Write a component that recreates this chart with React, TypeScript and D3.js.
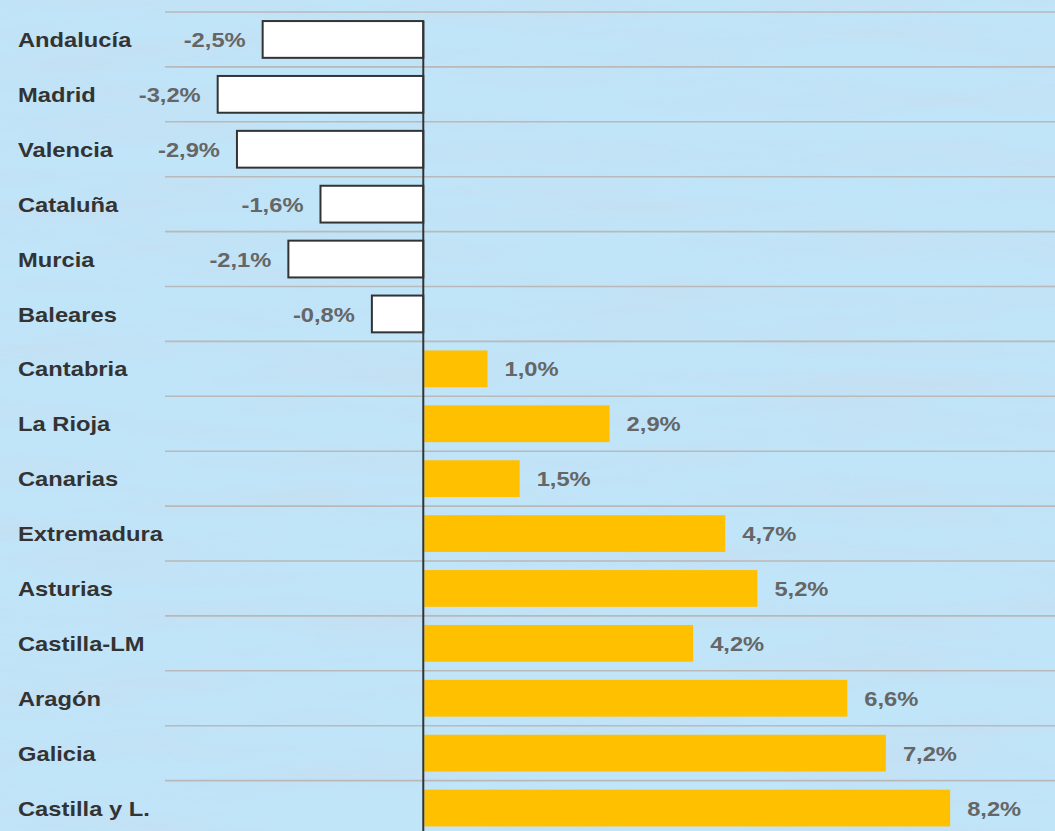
import React from "react";
import * as d3 from "d3";

const categories = [
  "Andalucía", "Madrid", "Valencia", "Cataluña", "Murcia", "Baleares",
  "Cantabria", "La Rioja", "Canarias", "Extremadura", "Asturias",
  "Castilla-LM", "Aragón", "Galicia", "Castilla y L.",
];
const values = [-2.5, -3.2, -2.9, -1.6, -2.1, -0.8, 1.0, 2.9, 1.5, 4.7, 5.2, 4.2, 6.6, 7.2, 8.2];
const valueLabels = values.map((v) => d3.format(".1f")(v).replace(".", ",").replace("−", "-") + "%");

const W = 1055;
const H = 831;
const SX = 1.13;

export default function App() {
  const n = categories.length;
  const step = 54.9;
  const y = d3
    .scaleBand<string>()
    .domain(categories)
    .range([12, 12 + step * n])
    .paddingInner(0.33)
    .paddingOuter(0.165);
  const pxPer = 64.25;
  const x = d3.scaleLinear().domain([-4.02, 9.9]).range([165, 165 + 13.92 * pxPer]);
  const bw = y.bandwidth();
  const gap = (y.step() - bw) / 2;
  const x0 = x(0);

  return (
    <svg
      width={W}
      height={H}
      style={{ position: "absolute", left: 0, top: 0, display: "block" }}
      fontFamily="'Liberation Sans', Arial, sans-serif"
    >
      <defs>
        <filter id="tex" x="0" y="0" width="100%" height="100%">
          <feTurbulence type="fractalNoise" baseFrequency="0.004 0.035" numOctaves={3} seed={7} />
          <feColorMatrix
            type="matrix"
            values="0 0 0 0 0.58  0 0 0 0 0.72  0 0 0 0 0.86  2.2 0 0 0 -0.95"
          />
        </filter>
      </defs>
      <rect x={0} y={0} width={W} height={H} fill="#c0e4f8" />
      <rect x={0} y={0} width={W} height={H} filter="url(#tex)" opacity={0.6} />

      {categories.map((c) => (
        <line
          key={"g" + c}
          x1={165}
          x2={W}
          y1={(y(c) as number) - gap}
          y2={(y(c) as number) - gap}
          stroke="#b9b9b9"
          strokeWidth={1.6}
        />
      ))}

      {categories.map((c, i) => {
        const v = values[i];
        const yy = y(c) as number;
        const xs = Math.min(x(v), x0);
        const w = Math.abs(x(v) - x0);
        return v < 0 ? (
          <rect key={"b" + c} x={xs} y={yy} width={w} height={bw} fill="#ffffff" stroke="#333333" strokeWidth={2} />
        ) : (
          <rect key={"b" + c} x={xs + 1} y={yy} width={w - 1} height={bw} fill="#FFC000" />
        );
      })}

      <line x1={x0} x2={x0} y1={y(categories[0]) as number} y2={H} stroke="#333333" strokeWidth={2} />

      {categories.map((c) => (
        <text
          key={"l" + c}
          transform={`translate(18,${(y(c) as number) + bw / 2}) scale(${SX},1)`}
          dy="0.36em"
          fontSize={21}
          fontWeight="bold"
          fill="#333333"
        >
          {c}
        </text>
      ))}

      {categories.map((c, i) => {
        const v = values[i];
        const neg = v < 0;
        const tx = neg ? x(v) - 17 : x(v) + 17;
        return (
          <text
            key={"v" + c}
            transform={`translate(${tx},${(y(c) as number) + bw / 2}) scale(${SX},1)`}
            dy="0.36em"
            textAnchor={neg ? "end" : "start"}
            fontSize={21}
            fontWeight="bold"
            fill="#666666"
          >
            {valueLabels[i]}
          </text>
        );
      })}
    </svg>
  );
}
